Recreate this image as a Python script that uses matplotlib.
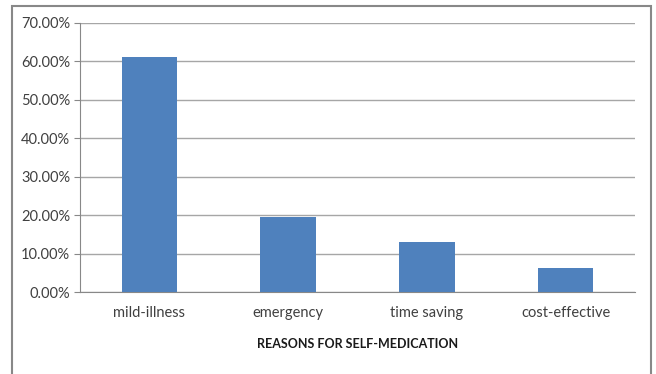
import numpy as np
import matplotlib.pyplot as plt
from matplotlib.patches import Rectangle
from matplotlib.ticker import PercentFormatter

categories = ["mild-illness", "emergency", "time saving", "cost-effective"]
values = [61.2, 19.4, 12.9, 6.25]
y_ticks = [0, 10, 20, 30, 40, 50, 60, 70]

plt.rcParams["font.family"] = ["Lato", "DejaVu Sans"]

fig = plt.figure(figsize=(6.56, 3.74), dpi=100)
ax = fig.add_axes([80 / 656, 1 - 292 / 374, 555 / 656, 269 / 374])

x = np.arange(len(categories))
ax.bar(x, values, width=0.4, color="#4F81BD", zorder=3)

ax.set_xlim(-0.5, len(categories) - 0.5)
ax.set_ylim(0, 70)
ax.set_yticks(y_ticks)
ax.yaxis.set_major_formatter(PercentFormatter(decimals=2))
ax.set_xticks(x)
ax.set_xticklabels(categories)
ax.tick_params(axis="x", length=0, pad=10, labelsize=10.5, colors="#404040")
ax.tick_params(axis="y", length=4, color="#888888", pad=3, labelsize=10.5, colors="#404040")

ax.grid(axis="y", color="#a6a6a6", lw=1, zorder=0)
for side in ("top", "right"):
    ax.spines[side].set_visible(False)
for side in ("left", "bottom"):
    ax.spines[side].set_color("#888888")

ax.set_xlabel("REASONS FOR SELF-MEDICATION", fontsize=9, fontweight="bold",
              color="#1a1a1a", labelpad=13)

# outer chart border
fig.patches.append(Rectangle((12 / 656, -0.05), 639 / 656, 1.05 - 6 / 374,
                             transform=fig.transFigure, fill=False,
                             edgecolor="#888888", lw=1.5))

fig.savefig("out.png", dpi=100)
